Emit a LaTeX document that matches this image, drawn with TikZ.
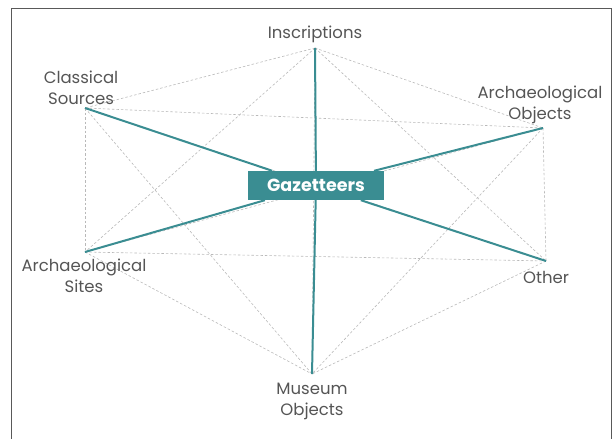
\documentclass[tikz,border=0pt]{standalone}
\usepackage{fontspec}
\setmainfont{Poppins}
\usetikzlibrary{positioning}
\definecolor{gazteal}{HTML}{3A8D92}
\definecolor{labelgray}{HTML}{555555}
\tikzset{src/.style={
		text=labelgray,
		font=\fontsize{16.5}{21}\selectfont,
		align=center,
		inner sep=1pt,
	}
}
\tikzset{link/.style={
		draw=gray!55,
		dash pattern=on 2.5pt off 2pt,
		line width=0.6pt,
	}
}
\tikzset{spoke/.style={
		draw=gazteal,
		line width=2pt,
	}
}
\tikzset{hub/.style={
		rectangle,
		fill=gazteal,
		text=white,
		font=\bfseries\fontsize{17.5}{20}\selectfont,
		inner sep=0pt,
		minimum width=136pt,
		minimum height=29pt,
	}
}

\begin{document}
\begin{tikzpicture}[x=1pt, y=-1pt]

\useasboundingbox (0,0) rectangle (613,439);

% frame
\draw[gray!70!black, line width=0.8pt] (11.5,439) -- (11.5,8.5) -- (611.5,8.5) -- (611.5,439);

% corners
\coordinate (ins) at (315,48);
\coordinate (cls) at (85,108);
\coordinate (aob) at (543,128);
\coordinate (asi) at (85,252);
\coordinate (oth) at (546,261);
\coordinate (mus) at (312,374);

% dashed mesh
\foreach \a/\b in {ins/cls, ins/aob, ins/asi, ins/oth, ins/mus,
	cls/aob, cls/asi, cls/oth, cls/mus,
	aob/asi, aob/oth, aob/mus,
	asi/oth, asi/mus, oth/mus}
	\draw[link] (\a) -- (\b);

\node[hub] (gaz) at (316,185.5) {Gazetteers};

\foreach \a in {ins, cls, aob, asi, oth, mus}
	\draw[spoke] (\a) -- (gaz);

% labels
\node[src, above=4pt of ins] (insl) {Inscriptions};
\node[src, above=2pt of cls, xshift=-4pt] (clsl) {Classical\\Sources};
\node[src, above=3pt of aob, xshift=-3pt] (aobl) {Archaeological\\Objects};
\node[src, below=6pt of asi, xshift=-1pt] (asil) {Archaeological\\Sites};
\node[src, below=9pt of oth] (othl) {Other};
\node[src, below=8pt of mus] (musl) {Museum\\Objects};

\end{tikzpicture}
\end{document}
